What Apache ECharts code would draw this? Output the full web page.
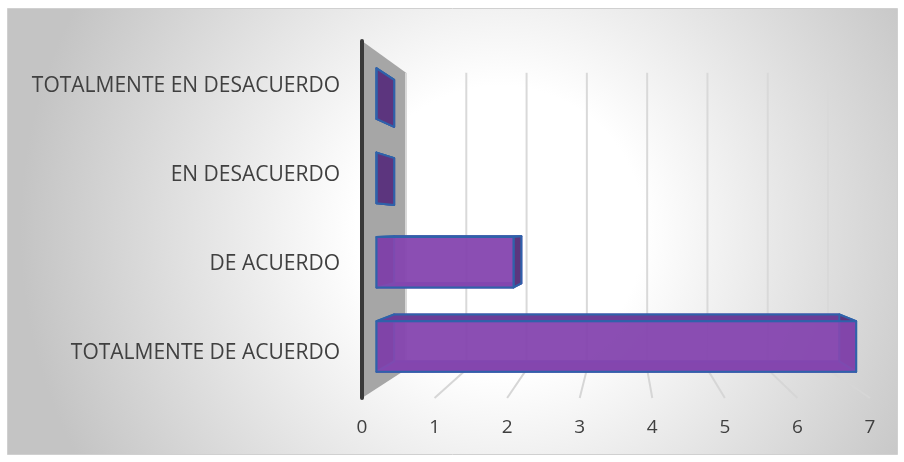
<!DOCTYPE html>
<html>
<head>
<meta charset="utf-8">
<script src="https://cdn.jsdelivr.net/npm/echarts@6/dist/echarts.min.js"></script>
<style>
html, body { margin: 0; padding: 0; background: #ffffff; }
#chart { width: 904px; height: 462px; }
</style>
</head>
<body>
<div id="chart"></div>
<script>
// Survey answers and how many respondents gave each one
const categories = ['TOTALMENTE DE ACUERDO', 'DE ACUERDO', 'EN DESACUERDO', 'TOTALMENTE EN DESACUERDO'];
const counts = [7, 2, 0, 0];
const xTicks = [0, 1, 2, 3, 4, 5, 6, 7];

// Simple one-point perspective used to give the plot its 3-D look
const VP = [622, 229];      // vanishing point in pixels
const SHRINK = 0.1693;      // how much the back wall shrinks relative to the front plane
const BAR_FRONT = 0.33;     // depth of the bar front face (0 = front plane, 1 = back wall)
const BAR_BACK = 0.73;      // depth of the bar back face

function proj(p, t) {
  const k = 1 - SHRINK * t;
  return [VP[0] + (p[0] - VP[0]) * k, VP[1] + (p[1] - VP[1]) * k];
}

const chart = echarts.init(document.getElementById('chart'));
const FONT = '"Open Sans", sans-serif';
const TEXT = '#404040';

function renderWalls(params, api) {
  const cs = params.coordSys;
  const top = cs.y, bottom = cs.y + cs.height;
  const x0 = api.coord([0, 0])[0];
  const children = [];
  // grey side wall on the left
  children.push({
    type: 'polygon',
    shape: { points: [proj([x0, top], 0), proj([x0, top], 1), proj([x0, bottom], 1), proj([x0, bottom], 0)] },
    style: { fill: '#a6a6a6' }
  });
  xTicks.forEach(v => {
    const x = api.coord([v, 0])[0];
    // vertical grid line on the back wall
    const a = proj([x, top], 1), b = proj([x, bottom], 1);
    children.push({
      type: 'line',
      shape: { x1: a[0], y1: a[1], x2: b[0], y2: b[1] },
      style: { stroke: '#d9d9d9', lineWidth: 2 }
    });
    if (v > 0) {
      // grid line across the floor
      const c = proj([x, bottom], 0);
      children.push({
        type: 'line',
        shape: { x1: b[0], y1: b[1], x2: c[0], y2: c[1] },
        style: { stroke: '#d6d6d6', lineWidth: 2 }
      });
    }
  });
  return { type: 'group', children };
}

function renderBar(params, api) {
  const v = api.value(0), i = api.value(1);
  const base = api.coord([0, i]);
  const end = api.coord([v, i]);
  const h = api.size([0, 1])[1] * 0.3;
  const yT = base[1] - h, yB = base[1] + h;
  const x0 = base[0], x1 = end[0];
  const A = [x0, yT], B = [x1, yT], C = [x1, yB], D = [x0, yB];
  const f = p => proj(p, BAR_FRONT), b = p => proj(p, BAR_BACK);
  const edge = '#2f62aa';
  const face = (pts, fill, stroke) => ({
    type: 'polygon',
    shape: { points: pts },
    style: { fill, stroke: stroke || edge, lineWidth: 2, lineJoin: 'round' }
  });
  const children = [
    face([b(A), b(B), b(C), b(D)], 'rgba(120,64,165,0.7)', '#5b3fa8'),
    face([f(D), f(C), b(C), b(D)], '#6f3c9c', '#5b3fa8'),
    face([f(A), b(A), b(D), f(D)], '#4f2c6f'),
    face([f(A), f(B), b(B), b(A)], '#6b3d97'),
    face([f(B), b(B), b(C), f(C)], '#5c357e'),
    face([f(A), f(B), f(C), f(D)], 'rgba(135,72,176,0.88)')
  ];
  return { type: 'group', children };
}

chart.setOption({
  animation: false,
  backgroundColor: '#ffffff',
  graphic: [{
    type: 'rect',
    z: -10,
    silent: true,
    shape: { x: 7.5, y: 8.5, width: 890, height: 446 },
    style: {
      fill: new echarts.graphic.RadialGradient(500, 230, 480, [
        { offset: 0, color: '#ffffff' },
        { offset: 0.3, color: '#ffffff' },
        { offset: 1, color: '#c4c4c4' }
      ], true),
      stroke: '#d0d0d0',
      lineWidth: 1
    }
  }],
  grid: { left: 362, right: 34, top: 41, bottom: 64 },
  xAxis: {
    type: 'value',
    min: 0,
    max: 7,
    interval: 1,
    axisLine: { show: false },
    axisTick: { show: false },
    splitLine: { show: false },
    axisLabel: { fontSize: 19, color: TEXT, fontFamily: FONT, margin: 20 }
  },
  yAxis: {
    type: 'category',
    data: categories,
    z: 10,
    axisLine: { show: true, lineStyle: { color: '#3a3a3a', width: 4 } },
    axisTick: { show: false },
    splitLine: { show: false },
    axisLabel: { fontSize: 21, color: TEXT, fontFamily: FONT, margin: 22, padding: [3, 0, 0, 0] }
  },
  series: [
    {
      type: 'custom',
      z: 1,
      silent: true,
      renderItem: renderWalls,
      data: [[0, 0]]
    },
    {
      type: 'custom',
      z: 3,
      renderItem: renderBar,
      encode: { x: 0, y: 1 },
      data: counts.map((v, i) => [v, i])
    }
  ]
});
</script>
</body>
</html>
